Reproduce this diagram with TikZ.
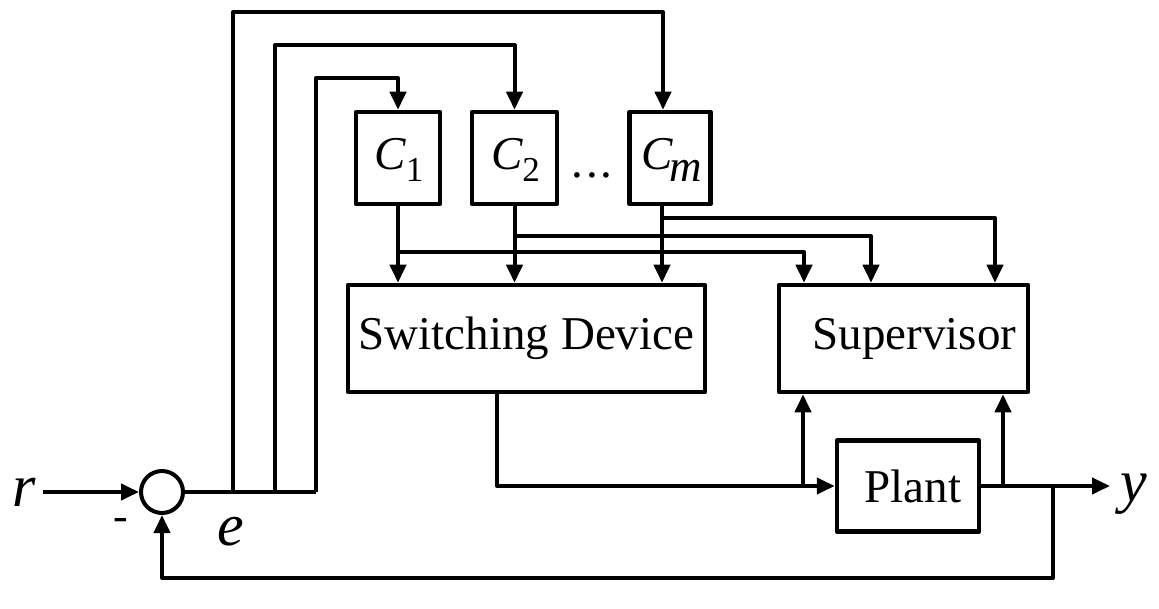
\documentclass[tikz,border=0pt]{standalone}
\usepackage{fontspec}
\setmainfont{Liberation Serif}
\usetikzlibrary{arrows.meta}
\begin{document}
\begin{tikzpicture}[x=1pt,y=-1pt, line width=4pt, line join=round,
  >={Triangle[length=18pt,width=16pt]},
  blk/.style={draw, line width=4.5pt, inner sep=0pt, font=\fontsize{47}{47}\selectfont},
  cfont/.style={font=\fontsize{47}{47}\selectfont\itshape, inner sep=0pt},
  sig/.style={font=\fontsize{60}{60}\selectfont\itshape, inner sep=0pt}]
\useasboundingbox (0,0) rectangle (1159,609);
% blocks
\node[draw, circle, minimum size=42pt, inner sep=0pt] (sum) at (162,492) {};
\node[blk, minimum width=84pt, minimum height=92pt] (c1) at (398,158) {};
\node[blk, minimum width=85pt, minimum height=92pt] (c2) at (514.5,158) {};
\node[blk, minimum width=81pt, minimum height=92pt] (cm) at (670,158) {};
\node[cfont, anchor=base] (c1t) at (399,170) {C\kern0pt\lower12pt\hbox{\upshape\fontsize{35}{35}\selectfont 1}};
\node[cfont, anchor=base] (c2t) at (515.5,170) {C\kern0pt\lower12pt\hbox{\upshape\fontsize{35}{35}\selectfont 2}};
\node[cfont, anchor=base] (cmt) at (672,170) {C\kern-3pt\lower12pt\hbox{\fontsize{45}{45}\selectfont m}};
\node[font=\fontsize{47}{47}\selectfont, anchor=base, inner sep=0pt] (dots) at (592,178) {.\kern3pt.\kern3pt.};
\node[blk, minimum width=357pt, minimum height=107pt] (sw) at (526.5,338.5) {Switching Device};
\node[blk, minimum width=249pt, minimum height=107pt] (sup) at (903.5,338.5) {\hspace*{22pt}Supervisor};
\node[blk, minimum width=142pt, minimum height=91pt] (plant) at (908,486) {\hspace*{10pt}Plant};
% labels
\node[sig] (rl) at (24,492) {r};
\node[font=\fontsize{44}{44}\selectfont, inner sep=0pt] (minus) at (121,524) {-};
\node[sig] (el) at (231,532) {e};
\node[sig] (yl) at (1134,494) {y};
% coordinates
\coordinate (rin) at (43,492);
\coordinate (b1) at (233,492);
\coordinate (b2) at (275,492);
\coordinate (b3) at (316,492);
\coordinate (j1) at (803,486);
\coordinate (j2) at (1003,486);
\coordinate (j3) at (1053,486);
\coordinate (yend) at (1110,486);
% connectors
\draw[->] (rin) -- (sum.west);
\draw (sum.east) -- (b3);
\draw[->] (b1) -- (233,12) -| ([xshift=-7pt]cm.north);
\draw[->] (b2) -- (275,45) -| (c2.north);
\draw[->] (b3) -- (316,78) -| (c1.north);
\draw[->] (c1.south) -- (c1.south |- sw.north);
\draw[->] (c2.south) -- (c2.south |- sw.north);
\draw[->] ([xshift=-8pt]cm.south) -- ([xshift=-8pt]cm.south |- sw.north);
\draw[->] (c1.south) -- (398,252) -| ([xshift=-99.5pt]sup.north);
\draw[->] (c2.south) -- (514.5,236) -| ([xshift=-32.5pt]sup.north);
\draw[->] ([xshift=-8pt]cm.south) -- (662,218) -| ([xshift=91.5pt]sup.north);
\draw[->] ([xshift=-29.5pt]sw.south) |- (j1) -- (plant.west);
\draw[->] (j1) -- (j1 |- sup.south);
\draw[->] (plant.east) -- (yend);
\draw[->] (j2) -- (j2 |- sup.south);
\draw[->] (j3) -- (1053,578) -| (sum.south);
\end{tikzpicture}
\end{document}
